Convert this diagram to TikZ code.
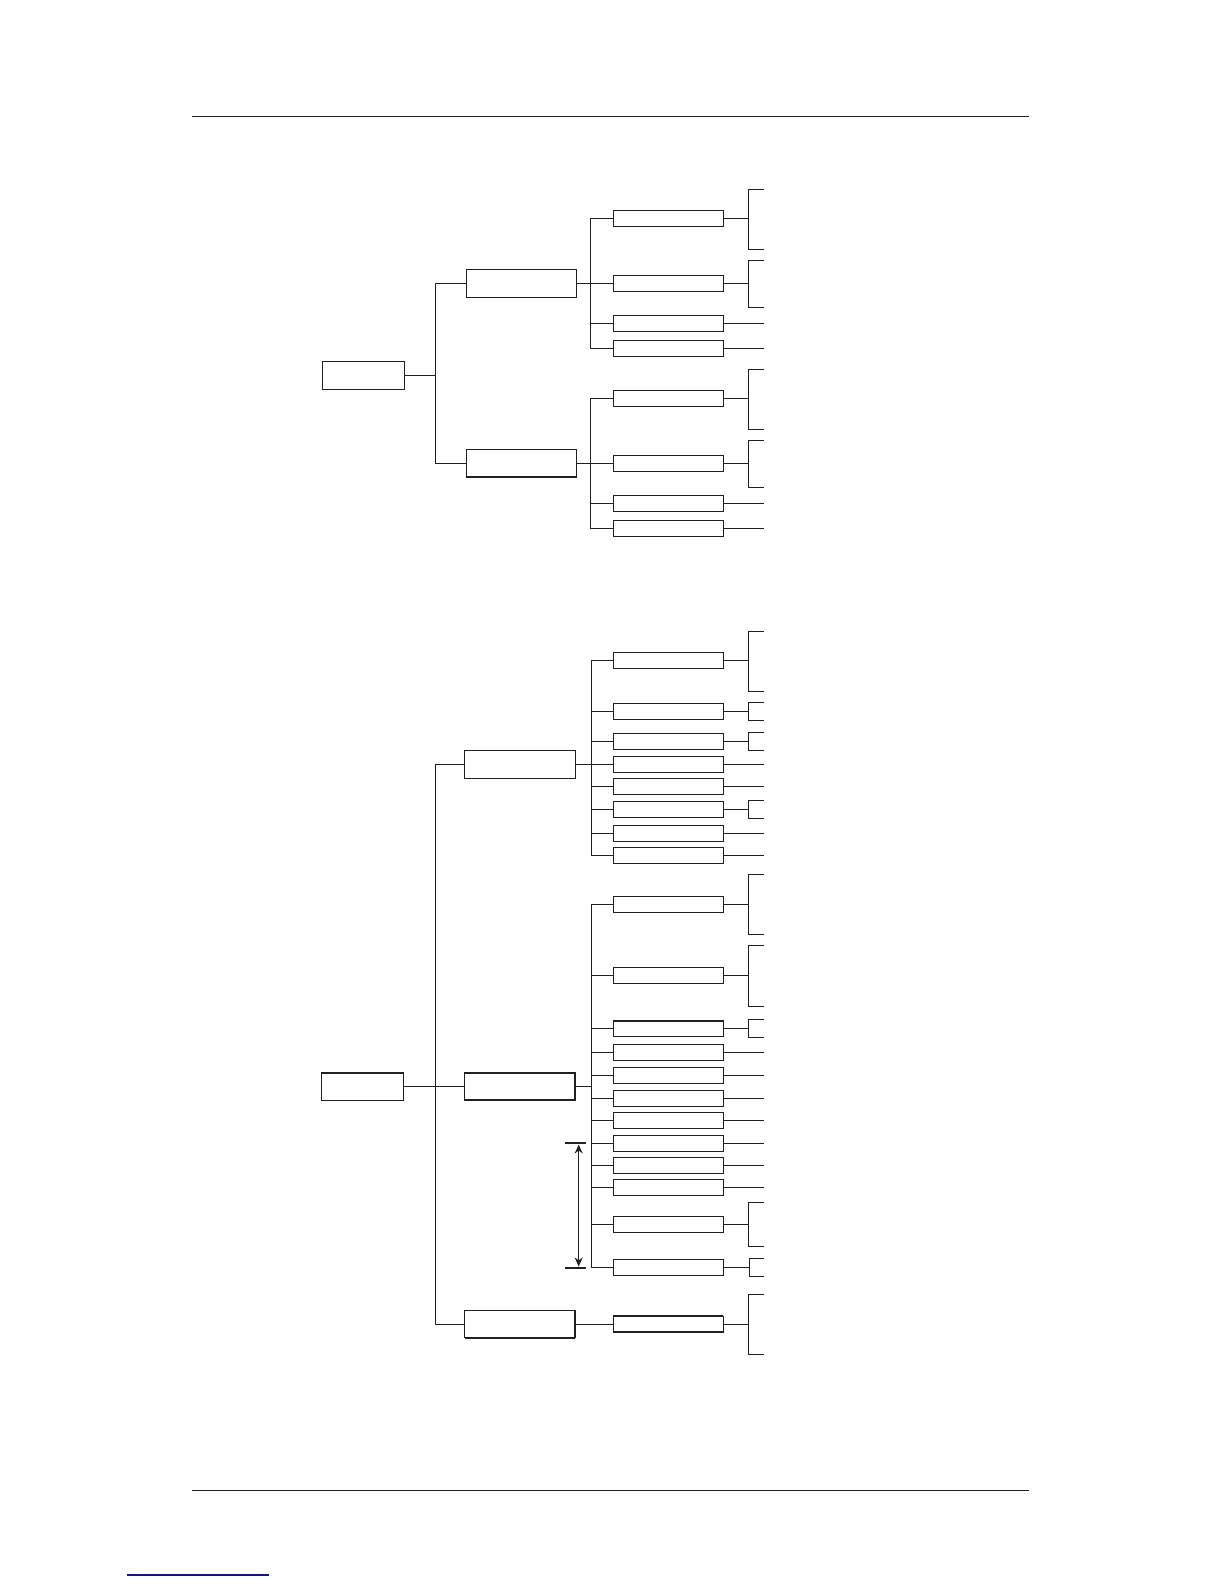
\documentclass[tikz,border=0pt]{standalone}
\usetikzlibrary{arrows.meta}
\definecolor{ink}{RGB}{35,31,32}
\definecolor{linkblue}{RGB}{20,20,140}
\newcommand\leafbrk[3]{%
  \draw[conn] (#1.east) -- (#1.east -| BX);
  \draw[conn] (764,#2) -- (748.3,#2) -- (748.3,#3) -- (764,#3);}
\newcommand\leafline[1]{\draw[conn] (#1.east) -- (#1.east -| BE);}
\newcommand\edgeT[1]{\draw[thk] (#1.north west) -- (#1.north east);}
\newcommand\edgeB[1]{\draw[thk] (#1.south west) -- (#1.south east);}
\newcommand\edgeL[1]{\draw[thk] (#1.south west) -- (#1.north west);}
\newcommand\edgeR[1]{\draw[thk] (#1.south east) -- (#1.north east);}
\begin{document}
\begin{tikzpicture}[x=0.5bp,y=-0.5bp,
  conn/.style={draw=ink, line width=0.36bp},
  thk/.style={draw=ink, line width=0.8bp, line cap=butt},
  rule/.style={draw=ink, line width=0.55bp},
  leafbox/.style={draw=ink, line width=0.36bp, fill=white, minimum width=55bp, minimum height=8bp, inner sep=0pt, outer sep=0pt},
  midbox/.style={draw=ink, line width=0.36bp, fill=white, minimum width=55.3bp, minimum height=13.7bp, inner sep=0pt, outer sep=0pt},
  rootbox/.style={draw=ink, line width=0.36bp, fill=white, minimum width=41bp, minimum height=13.6bp, inner sep=0pt, outer sep=0pt},
  dimbar/.style={draw=ink, line width=0.7bp},
  dimarrow/.style={draw=ink, line width=0.6bp, {Stealth[length=4.5bp,width=4bp]}-{Stealth[length=4.5bp,width=4bp]}}
]
\useasboundingbox (0,0) rectangle (1224,1584);
\fill[white] (0,0) rectangle (1224,1584);
\coordinate (BX) at (748.3,0);
\coordinate (BE) at (764,0);

% page rules
\coordinate (tl) at (192,116.3); \coordinate (tr) at (1029,116.3);
\draw[rule] (tl) -- (tr);
\coordinate (bl) at (192,1490.3); \coordinate (br) at (1029,1490.3);
\draw[rule] (bl) -- (br);
\coordinate (ul) at (127,1575); \coordinate (ur) at (269,1575);
\draw[draw=linkblue, line width=0.55bp] (ul) -- (ur);

% ===== upper tree =====
\node[rootbox] (r1) at (363.3,375.3) {};
\edgeL{r1}\edgeR{r1}
\node[midbox] (m1) at (521.5,283.3) {};
\node[midbox] (m2) at (521.5,463.3) {};
\edgeB{m2}
\coordinate (j1) at (435.3,375.3);
\draw[conn] (r1.east) -- (j1);
\draw[conn] (m1.west) -| (j1) |- (m2.west);

\foreach \n/\y in {a1/218.3, a2/283.3, a3/323.3, a4/348.3, b1/398.3, b2/463.3, b3/503.3, b4/528.3}
  \node[leafbox] (\n) at (668.3,\y) {};
\edgeT{a3}\edgeB{a3}
\draw[conn] (m1.east) -- (a2.west);
\draw[conn] (a1.west) -- ++(-23,0) |- (a4.west);
\draw[conn] (a3.west) -- ++(-23,0);
\draw[conn] (m2.east) -- (b2.west);
\draw[conn] (b1.west) -- ++(-23,0) |- (b4.west);
\draw[conn] (b3.west) -- ++(-23,0);
\leafbrk{a1}{189.3}{249.3}
\leafbrk{a2}{260.3}{307.3}
\leafline{a3}\leafline{a4}
\leafbrk{b1}{369.3}{429.3}
\leafbrk{b2}{440.3}{487.3}
\leafline{b3}\leafline{b4}

% ===== lower tree =====
\node[rootbox] (r2) at (362.8,1086.4) {};
\edgeT{r2}
\node[midbox] (n1) at (519.8,764.3) {};
\node[midbox] (n2) at (519.8,1086.4) {};
\edgeT{n2}\edgeB{n2}\edgeL{n2}\edgeR{n2}
\node[midbox] (n3) at (519.8,1324) {};
\edgeB{n3}\edgeL{n3}\edgeR{n3}
\coordinate (j2) at (435.3,1086.4);
\draw[conn] (r2.east) -- (n2.west);
\draw[conn] (n1.west) -| (j2) |- (n3.west);

% group 1
\foreach \n/\y in {c1/660.3, c2/711.3, c3/741.3, c4/764.3, c5/786.3, c6/809.3, c7/833.3, c8/855.3}
  \node[leafbox] (\n) at (668.3,\y) {};
\foreach \n in {c2,c3,c4,c5,c6,c7,c8} {\edgeL{\n}\edgeR{\n}}
\draw[conn] (n1.east) -- (c4.west);
\draw[conn] (c1.west) -- ++(-22.3,0) |- (c8.west);
\foreach \n in {c2,c3,c5,c6,c7} \draw[conn] (\n.west) -- ++(-22.3,0);
\leafbrk{c1}{631.3}{691}
\leafbrk{c2}{702}{720.3}
\leafbrk{c3}{732.3}{750.3}
\leafline{c4}\leafline{c5}
\leafbrk{c6}{800}{818.3}
\leafline{c7}\leafline{c8}

% group 2
\foreach \n/\y in {d1/904.3, d2/975.3, d3/1028.7, d4/1052.3, d5/1075.3, d6/1098.3, d7/1120.3, d8/1143.3, d9/1165.3, d10/1187.3, d11/1224.3, d12/1267.3}
  \node[leafbox] (\n) at (668.3,\y) {};
\edgeT{d3}\edgeT{d4}
\coordinate (j3) at (590.7,1086.4);
\draw[conn] (n2.east) -- (j3);
\draw[conn] (d1.west) -- ++(-22.3,0) |- (d12.west);
\foreach \n in {d2,d3,d4,d5,d6,d7,d8,d9,d10,d11} \draw[conn] (\n.west) -- ++(-22.3,0);
\leafbrk{d1}{874.3}{934}
\leafbrk{d2}{945.3}{1006}
\leafbrk{d3}{1019.3}{1037.3}
\foreach \n in {d4,d5,d6,d7,d8,d9,d10} {\leafline{\n}}
\leafbrk{d11}{1202.7}{1246.3}
\draw[conn] (d12.east) -- (749.3,1267.3);
\draw[conn] (764,1258.3) -- (749.3,1258.3) -- (749.3,1276.3) -- (764,1276.3);

% group 3
\node[leafbox] (e1) at (668.3,1324) {};
\edgeT{e1}\edgeB{e1}
\draw[conn] (n3.east) -- (e1.west);
\leafbrk{e1}{1294.3}{1354.3}

% dimension arrow
\coordinate (dt1) at (565,1143); \coordinate (dt2) at (585.7,1143);
\coordinate (db1) at (565,1268); \coordinate (db2) at (585.7,1268);
\coordinate (da1) at (578.7,1144.5); \coordinate (da2) at (578.7,1266.5);
\draw[dimbar] (dt1) -- (dt2);
\draw[dimbar] (db1) -- (db2);
\draw[dimarrow] (da1) -- (da2);
\end{tikzpicture}
\end{document}
